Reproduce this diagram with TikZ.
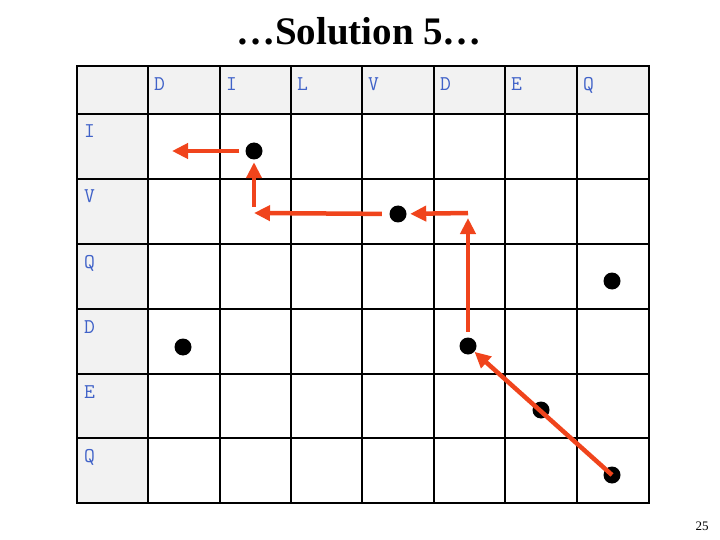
\documentclass[tikz,border=0pt]{standalone}
\usepackage{fontspec}
\setmainfont{Liberation Serif}
\usetikzlibrary{arrows.meta}
\definecolor{cellgray}{HTML}{F2F2F2}
\definecolor{labelblue}{HTML}{4062C8}
\definecolor{pathred}{HTML}{F0441C}

\begin{document}
\begin{tikzpicture}[x=1pt,y=-1pt,
    lbl/.style={anchor=base west,inner sep=0pt,text=labelblue,
      font=\ttfamily\fontsize{21}{21}\selectfont},
    dot/.style={circle,fill=black,inner sep=0pt,minimum size=17pt},
    trace/.style={-{Triangle[length=16pt,width=15pt]},line width=4.5pt,pathred}]
    \useasboundingbox (0,0) rectangle (720,540);
    % Title
    \node (title) at (359,45) [anchor=base,font=\fontsize{39}{39}\selectfont\bfseries] {…Solution 5…};
    % Shaded header row and column
    \fill[cellgray] (77,66) rectangle (649,114);
    \fill[cellgray] (77,66) rectangle (148,503);
    % Table lines
    \foreach \x in {77,148,220,291,362,434,505,577,649}
      \draw[line width=1.8pt] (\x,66) -- (\x,503);
    \foreach \y in {66,114,179,244,309,374,438,503}
      \draw[line width=1.8pt] (76,\y) -- (650,\y);
    % Column letters
    \path (154,91) node[lbl] (cD) {D};
    \path (226,91) node[lbl] (cI) {I};
    \path (297,91) node[lbl] (cL) {L};
    \path (368,91) node[lbl] (cV) {V};
    \path (440,91) node[lbl] (cD2) {D};
    \path (511,91) node[lbl] (cE) {E};
    \path (583,91) node[lbl] (cQ) {Q};
    % Row letters
    \path (84,138) node[lbl] (rI) {I};
    \path (84,203) node[lbl] (rV) {V};
    \path (84,268) node[lbl] (rQ) {Q};
    \path (84,333) node[lbl] (rD) {D};
    \path (84,398) node[lbl] (rE) {E};
    \path (84,462) node[lbl] (rQ2) {Q};
    % Matches
    \node[dot] (mII) at (254,151) {};
    \node[dot] (mVV) at (398,214) {};
    \node[dot] (mQQ) at (612,281) {};
    \node[dot] (mDD) at (183,347) {};
    \node[dot] (mDD2) at (468,346) {};
    \node[dot] (mEE) at (541,410) {};
    \node[dot] (mQQ2) at (612,475) {};
    % Traceback corners
    \coordinate (endI) at (172,151);
    \coordinate (kV) at (254,213);
    \coordinate (kD) at (468,213);
    % Traceback arrows
    \draw[trace] (mQQ2.center) -- (mDD2);
    \draw[trace,shorten <=5.5pt,shorten >=5pt] (mDD2) -- (kD);
    \draw[trace,shorten >=3.5pt] (kD) -- (mVV);
    \draw[trace,shorten <=7.5pt] (mVV) -- (kV);
    \draw[trace,shorten <=6pt,shorten >=2.5pt] (kV) -- (mII);
    \draw[trace,shorten <=6pt] (mII) -- (endI);
    % Page number
    \node (page) at (702,530) [anchor=base,font=\fontsize{13}{13}\selectfont] {25};
  \end{tikzpicture}
\end{document}
